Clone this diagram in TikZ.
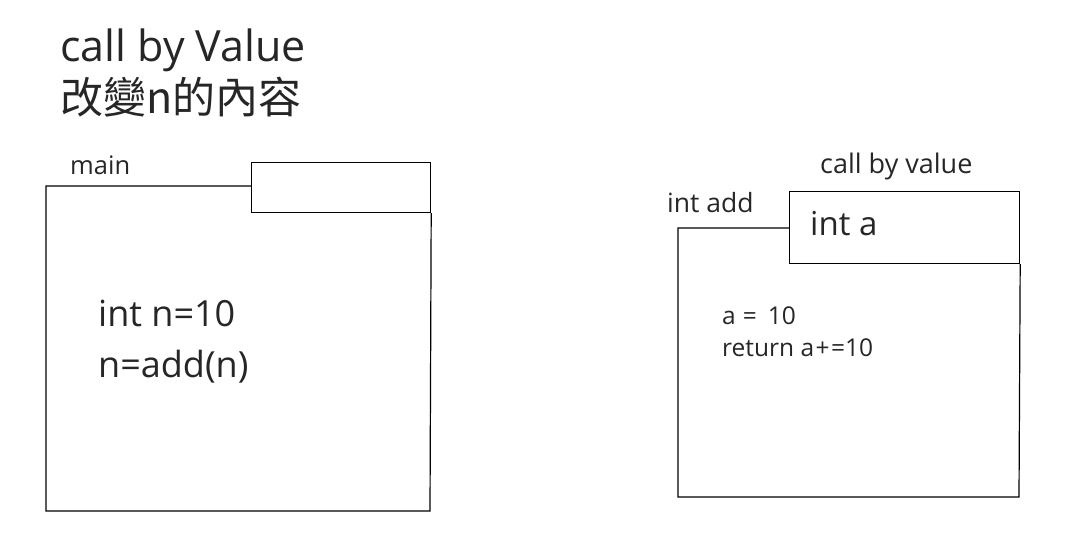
\documentclass[tikz,border=0pt]{standalone}
\usepackage{fontspec}
\setmainfont{Open Sans}
\newfontfamily\cjk{Noto Sans CJK TC}
\tikzset{
  frame/.style={draw=black, line width=1.2pt},
  lbl/.style={anchor=base west, inner sep=0pt, text=black!85},
}
\begin{document}
\begin{tikzpicture}[x=1pt,y=-1pt]
\useasboundingbox (0,0) rectangle (1066,556);
% titles
\node[lbl, font=\fontsize{43}{45}\selectfont] (t1) at (60,62) {call by Value};
\node[lbl, font=\fontsize{43}{45}\selectfont] (t2) at (60,114) {\cjk 改變n的內容};
% main box
\coordinate (m1) at (46,186);
\coordinate (m2) at (46,511);
\coordinate (m3) at (430,511);
\node[frame, minimum width=179pt, minimum height=50pt, inner sep=0pt, anchor=north west] (mhead) at (251,162) {};
\draw[frame] (mhead.west |- m1) -- (m1) -- (m2) -- (m3) -- (mhead.south east);
\node[lbl, font=\fontsize{25.5}{27}\selectfont] (mainl) at (70,175) {main};
\node[lbl, font=\fontsize{36}{38}\selectfont] (c1) at (98,326) {int n=10};
\node[lbl, font=\fontsize{36}{38}\selectfont] (c2) at (98,377) {n=add(n)};
% add box
\coordinate (a1) at (678,228);
\coordinate (a2) at (678,497);
\coordinate (a3) at (1019,497);
\node[frame, minimum width=230pt, minimum height=72pt, inner sep=0pt, anchor=north west] (ahead) at (789,191) {};
\draw[frame] (ahead.west |- a1) -- (a1) -- (a2) -- (a3) -- (ahead.south east);
\node[lbl, font=\fontsize{26.5}{28}\selectfont] (addl) at (667,213) {int add};
\node[lbl, font=\fontsize{27}{29}\selectfont] (cbv) at (820,174) {call by value};
\node[lbl, font=\fontsize{33}{35}\selectfont] (inta) at (810,236) {int a};
\node[lbl, font=\fontsize{24.5}{26}\selectfont] (b1) at (722,324) {a\hspace{7pt}=\hspace{11pt}10};
\node[lbl, font=\fontsize{24.5}{26}\selectfont] (b2) at (722,356) {return a\hspace{1.5pt}+\hspace{1.5pt}=10};
\end{tikzpicture}
\end{document}
